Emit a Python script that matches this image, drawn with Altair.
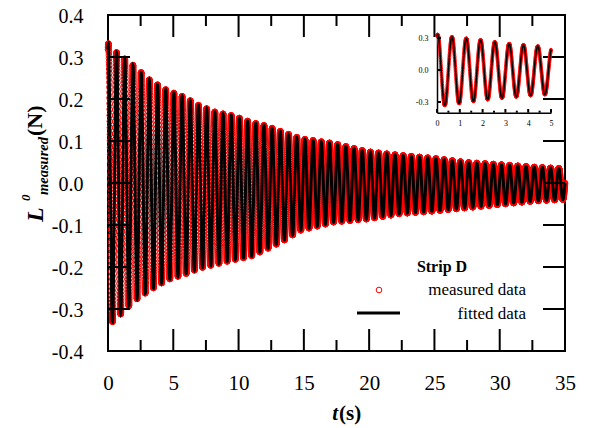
import altair as alt
import numpy as np
import pandas as pd

# ---- values ----
# envelope of the oscillation (outer edge of the trace), main panel
env_t = [0.0, 0.4, 1.9, 3.2, 4.5, 5.8, 7.0, 8.3, 9.6, 10.9, 12.1, 13.4, 14.7,
         17.3, 19.8, 22.4, 24.9, 27.5, 30.0, 32.6, 35.0]
env_upper = [0.34, 0.324, 0.288, 0.252, 0.228, 0.212, 0.191, 0.175, 0.167, 0.152,
             0.143, 0.128, 0.113, 0.101, 0.082, 0.073, 0.066, 0.056, 0.051, 0.045, 0.041]
env_lower = [-0.34, -0.337, -0.29, -0.262, -0.238, -0.225, -0.21, -0.2, -0.19, -0.182,
             -0.165, -0.145, -0.12, -0.10, -0.093, -0.08, -0.074, -0.066, -0.058, -0.05, -0.046]
# peak times (s)
inset_peaks = [0.03, 0.66, 1.29, 1.93, 2.56, 3.17, 3.80, 4.42]
sample_dt = 0.005
t_end = 35.0

x_major = [0, 5, 10, 15, 20, 25, 30, 35]
x_minor = [2.5, 7.5, 12.5, 17.5, 22.5, 27.5, 32.5]
y_ticks = [-0.4, -0.3, -0.2, -0.1, 0.0, 0.1, 0.2, 0.3, 0.4]
inset_x_major = [0, 1, 2, 3, 4, 5]
inset_x_minor = [0.5, 1.5, 2.5, 3.5, 4.5]
inset_y_ticks = [-0.3, 0.0, 0.3]

# ---- build series ----
period = (inset_peaks[-1] - inset_peaks[0]) / (len(inset_peaks) - 1)
t = np.round(np.arange(0, t_end + 1e-9, sample_dt), 4)
up = np.interp(t, env_t, env_upper) - 0.007
lo = np.interp(t, env_t, env_lower) + 0.007
mid = (up + lo) / 2
amp = (up - lo) / 2
phase = 2 * np.pi * (t - inset_peaks[0]) / period
sig = mid + amp * np.cos(phase)
df = pd.DataFrame({"t": t, "measured": sig, "fitted": sig})
df_in = df[df["t"] <= 5.0].copy()

FONT = "Liberation Serif"
W, H = 457, 336

xs = alt.Scale(domain=[0, 35], nice=False, zero=False)
ys = alt.Scale(domain=[-0.4, 0.4], nice=False, zero=False)
lab = "datum.value < 0 ? '-' + format(-datum.value, '.1f') : format(datum.value, '.1f')"

points = alt.Chart(df).mark_point(
    shape="circle", filled=False, color="#ff0000", size=32, strokeWidth=1, opacity=1
).encode(
    x=alt.X("t:Q", scale=xs, axis=alt.Axis(
        values=x_major, labelFont=FONT, labelFontSize=21, labelColor="black",
        labelPadding=38, labelBaseline="alphabetic", ticks=False, domain=False,
        grid=False, title=None, format="d", labelFlush=False, labelOverlap=False)),
    y=alt.Y("measured:Q", scale=ys, axis=alt.Axis(
        values=y_ticks, labelFont=FONT, labelFontSize=20, labelColor="black",
        labelPadding=25, labelBaseline="alphabetic", labelOffset=7, labelAlign="right",
        ticks=False, domain=False, grid=False, title=None, labelExpr=lab,
        labelFlush=False, labelOverlap=False)),
)
line = alt.Chart(df).mark_line(color="black", strokeWidth=3).encode(
    x="t:Q", y="fitted:Q")


def xticks(vals, y0, y1):
    return alt.Chart(pd.DataFrame({"v": vals})).mark_rule(
        color="black", strokeWidth=2).encode(
        x="v:Q", y=alt.value(y0), y2=alt.value(y1))


def yticks(vals, x0, x1):
    return alt.Chart(pd.DataFrame({"w": vals})).mark_rule(
        color="black", strokeWidth=2).encode(
        y="w:Q", x=alt.value(x0), x2=alt.value(x1))


one = alt.Data(values=[{}])


def txt(s, x, y, size, weight="normal", style="normal", align="left", angle=0, color="black"):
    return alt.Chart(one).mark_text(
        text=s, font=FONT, fontSize=size, fontWeight=weight, fontStyle=style,
        align=align, baseline="alphabetic", angle=angle, color=color
    ).encode(x=alt.value(x), y=alt.value(y))


main = alt.layer(
    points, line,
    xticks(x_major, 0, 22), xticks(x_minor, 0, 11),
    xticks(x_major, H, H - 22), xticks(x_minor, H, H - 11),
    yticks(y_ticks, 0, 22), yticks(y_ticks, W - 22, W),
    # y title: L^0_measured (N)
    txt("L", -65, 207, 24, "bold", "italic", angle=270),
    txt("0", -78, 186, 13, "bold", "italic", angle=270),
    txt("measured", -60, 180, 14.5, "bold", "italic", angle=270),
    txt("(N)", -66, 121, 22, "bold", angle=270),
    # x title
    txt("t", 230, 405, 21, "bold", "italic", align="right"),
    txt("(s)", 231, 405, 21, "bold"),
    # legend
    txt("Strip D", 334, 257, 16, "bold", align="center"),
    alt.Chart(one).mark_point(shape="circle", filled=False, color="#ff0000",
                              size=32, strokeWidth=1, opacity=1).encode(
        x=alt.value(271), y=alt.value(275)),
    txt("measured data", 418, 280, 17, align="right"),
    alt.Chart(one).mark_rule(color="black", strokeWidth=3).encode(
        x=alt.value(249), x2=alt.value(292), y=alt.value(298)),
    txt("fitted data", 418, 304, 17, align="right"),
)

# ---- inset ----
ixs = alt.Scale(domain=[0, 5], range=[329, 443], nice=False, zero=False)
iys = alt.Scale(domain=[-0.4, 0.35], range=[97.7, 17.7], nice=False, zero=False)

in_points = alt.Chart(df_in).mark_point(
    shape="circle", filled=False, color="#ff0000", size=8, strokeWidth=1, opacity=1
).encode(
    x=alt.X("t:Q", scale=ixs, axis=alt.Axis(
        orient="bottom", offset=97.7 - H, values=inset_x_major, labelFont=FONT,
        labelFontSize=8, labelColor="black", labelPadding=13,
        labelBaseline="alphabetic", ticks=False, domain=True, domainColor="black",
        domainWidth=1.5, grid=False, title=None, format="d", labelFlush=False,
        labelOverlap=False)),
    y=alt.Y("measured:Q", scale=iys, axis=alt.Axis(
        orient="left", offset=-329, values=inset_y_ticks, labelFont=FONT,
        labelFontSize=8, labelColor="black", labelPadding=9, labelBaseline="middle",
        ticks=False, domain=True, domainColor="black", domainWidth=1.5, grid=False,
        title=None, labelExpr=lab, labelFlush=False, labelOverlap=False)),
)
in_line = alt.Chart(df_in).mark_line(color="black", strokeWidth=1.5).encode(
    x="t:Q", y="fitted:Q")

inset = alt.layer(
    in_points, in_line,
    xticks(inset_x_major, 97.7, 94), xticks(inset_x_minor, 97.7, 95.7),
    yticks(inset_y_ticks, 329, 333),
)

chart = alt.layer(main, inset).resolve_scale(
    x="independent", y="independent"
).resolve_axis(
    x="independent", y="independent"
).properties(
    width=W, height=H, autosize="none",
    padding={"left": 100, "top": 7, "right": 23, "bottom": 74},
    background="white",
).configure_view(stroke="black", strokeWidth=2)

chart.save("out.html", embed_options={"renderer": "svg", "actions": False})
